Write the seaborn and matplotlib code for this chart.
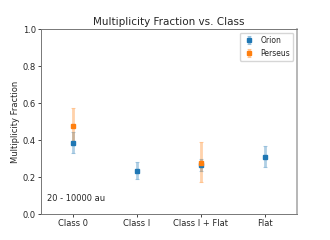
import numpy as np
import pandas as pd
import matplotlib
matplotlib.use("Agg")
import matplotlib.pyplot as plt
import seaborn as sns

classes = ["Class 0", "Class I", "Class I + Flat", "Flat"]

orion_frac = [0.385, 0.232, 0.266, 0.310]
orion_lo = [0.053, 0.045, 0.032, 0.058]
orion_hi = [0.058, 0.049, 0.031, 0.058]

perseus_classes = ["Class 0", "Class I + Flat"]
perseus_frac = [0.474, 0.274]
perseus_lo = [0.10, 0.099]
perseus_hi = [0.10, 0.114]

sns.set_style("ticks")
plt.rcParams["font.family"] = ["DejaVu Sans"]
pal = sns.color_palette("tab10")

fig, ax = plt.subplots(figsize=(3.3, 2.4), dpi=100)
fig.subplots_adjust(left=0.124, right=0.9, top=0.879, bottom=0.108)

xpos = {c: i for i, c in enumerate(classes)}

# same error bar look for both regions
eb_kw = dict(fmt="s", ms=2.2, elinewidth=2.0, capsize=1.5, capthick=0.8)
ax.errorbar([xpos[c] for c in classes], orion_frac,
            yerr=[orion_lo, orion_hi], color=pal[0],
            ecolor=(*pal[0], 0.35), label="Orion", **eb_kw)
ax.errorbar([xpos[c] for c in perseus_classes], perseus_frac,
            yerr=[perseus_lo, perseus_hi], color=pal[1],
            ecolor=(*pal[1], 0.35), label="Perseus", **eb_kw)

ax.set_xlim(-0.5, 3.5)
ax.set_ylim(0, 1.0)
ax.set_xticks(range(len(classes)))
ax.set_xticklabels(classes)
ax.set_yticks(np.arange(0, 1.01, 0.2))
ax.tick_params(labelsize=6, length=2, width=0.6, pad=1.5)
ax.set_ylabel("Multiplicity Fraction", fontsize=6, labelpad=2)
ax.set_title("Multiplicity Fraction vs. Class", fontsize=7.5, pad=3)
ax.text(0.025, 0.07, "20 - 10000 au", transform=ax.transAxes, fontsize=6)

for side in ["left", "bottom", "top"]:
    ax.spines[side].set_color("#777777")
    ax.spines[side].set_linewidth(0.7)
ax.spines["right"].set_color("#aaaaaa")
ax.spines["right"].set_linewidth(1.2)

ax.legend(loc="upper right", fontsize=5.5, frameon=True, framealpha=0.8,
          handlelength=1.5, borderpad=0.4, labelspacing=0.5)

fig.savefig("out.png", dpi=100)
